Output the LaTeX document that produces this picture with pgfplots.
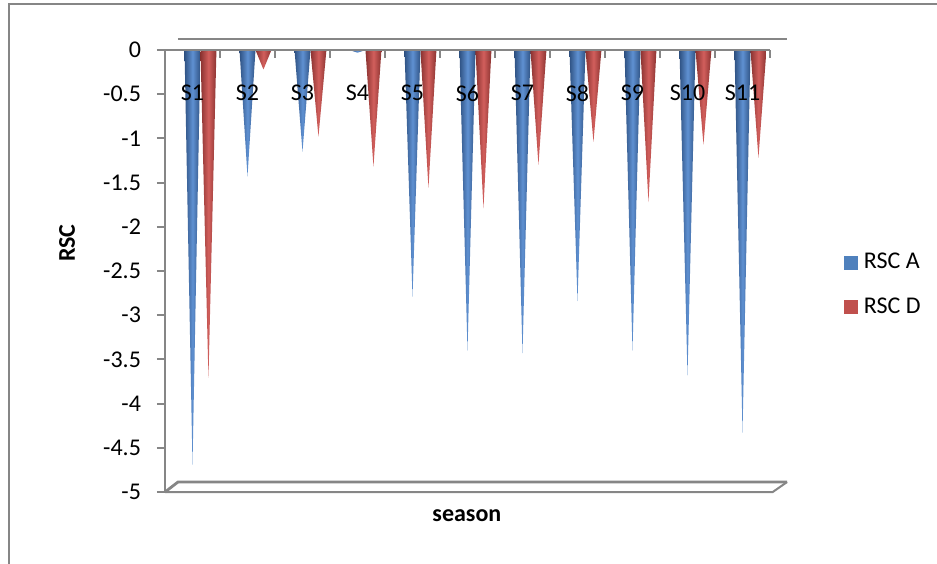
\documentclass[border=0pt]{standalone}
\usepackage{pgfplots}
\pgfplotsset{compat=1.18}
\usepackage{pgfplotstable}
\usepackage{fontspec}
\setmainfont{Carlito}
\definecolor{blueA}{HTML}{4F81BD}
\definecolor{blueD}{HTML}{2F5283}
\definecolor{blueL}{HTML}{5F91D2}
\definecolor{redA}{HTML}{C0504D}
\definecolor{redD}{HTML}{8A3331}
\definecolor{redL}{HTML}{D25F5C}
\definecolor{axgray}{HTML}{868686}
\pgfplotstableread{
x A D
1 -4.69 -3.71
2 -1.43 -0.22
3 -1.15 -0.98
4 -0.03 -1.32
5 -2.79 -1.56
6 -3.40 -1.79
7 -3.43 -1.30
8 -2.84 -1.04
9 -3.40 -1.72
10 -3.68 -1.07
11 -4.33 -1.22
}\rsc
\begin{document}
\begin{tikzpicture}
\begin{axis}[
  at={(82.5pt,-246pt)}, anchor=south west,
  scale only axis, width=302.5pt, height=221pt,
  xmin=0.5, xmax=11.5, ymin=-5, ymax=0,
  clip=false, axis on top,
  axis x line*=top, axis y line*=left,
  axis line style={axgray, line width=1pt},
  xtick={1,...,11},
  xticklabels={S1,S2,S3,S4,S5,S6,S7,S8,S9,S10,S11},
  xtick style={draw=none},
  xticklabel style={anchor=center, yshift=-25.5pt},
  ytick={-5,-4.5,...,0},
  ytick style={axgray, line width=1pt},
  tick align=outside, major tick length=4pt,
  yticklabel style={xshift=-4.5pt},
  /pgf/number format/assume math mode=true,
  ticklabel style={font=\fontsize{12}{14}\selectfont},
  xlabel={season}, ylabel={RSC},
  label style={font=\bfseries\fontsize{12}{14}\selectfont},
  xlabel style={at={(axis description cs:0.499,-0.054)}, anchor=center},
  ylabel style={at={(axis description cs:-0.162,0.563)}, anchor=center},
  legend style={at={(1.112,0.469)}, anchor=west, draw=none, fill=none,
    font=\fontsize{12}{14}\selectfont, row sep=9pt,
    nodes={inner xsep=3pt}},
  legend cell align=left,
]
\pgfplotsinvokeforeach{0,...,10}{
  \pgfplotstablegetelem{#1}{x}\of\rsc \let\cx\pgfplotsretval
  \pgfplotstablegetelem{#1}{A}\of\rsc \let\va\pgfplotsretval
  \pgfplotstablegetelem{#1}{D}\of\rsc \let\vd\pgfplotsretval
  \pgfmathsetmacro\al{\cx-0.145}
  \pgfmathsetmacro\ar{\cx+0.145}
  \pgfmathsetmacro\dc{\cx+0.29}
  \pgfmathsetmacro\dl{\cx+0.145}
  \pgfmathsetmacro\dr{\cx+0.435}
  \edef\temp{%
    \noexpand\addplot[forget plot, draw=none, left color=redD, right color=redD, middle color=redL]
      coordinates {(\dl,0) (\dc,\vd) (\dr,0)} -- cycle;
    \noexpand\addplot[forget plot, draw=none, left color=blueD, right color=blueD, middle color=blueL]
      coordinates {(\al,0) (\cx,\va) (\ar,0)} -- cycle;
  }\temp
}
\addlegendimage{legend image code/.code={\fill[blueA] (0pt,-3.25pt) rectangle (6.5pt,3.25pt);}}
\addlegendentry{RSC A}
\addlegendimage{legend image code/.code={\fill[redA] (0pt,-3.25pt) rectangle (6.5pt,3.25pt);}}
\addlegendentry{RSC D}
\pgfplotsinvokeforeach{0.5,1.5,2.5,3.5,4.5,5.5,6.5,7.5,8.5,9.5,10.5,11.5}{
  \draw[axgray, line width=1.2pt] (axis cs:#1,0) -- ([yshift=-4pt]axis cs:#1,0);
}
\draw[axgray, line width=1pt] (axis cs:0.736,0.124) -- (axis cs:11.81,0.124);
\draw[axgray, line width=1pt] (axis cs:0.5,-5) -- (axis cs:11.55,-5) -- (axis cs:11.81,-4.887);
\draw[axgray, line width=1.4pt] (axis cs:0.5,-5) -- (axis cs:0.736,-4.887) -- (axis cs:11.81,-4.887);
\end{axis}
\begin{scope}[x=0.5pt,y=-0.5pt]
\draw[axgray, line width=1pt] (9,580) -- (9,4) -- (950,4);
\end{scope}
\pgfresetboundingbox
\path[use as bounding box] (0pt,0pt) rectangle (468.5pt,-281.5pt);
\end{tikzpicture}
\end{document}
